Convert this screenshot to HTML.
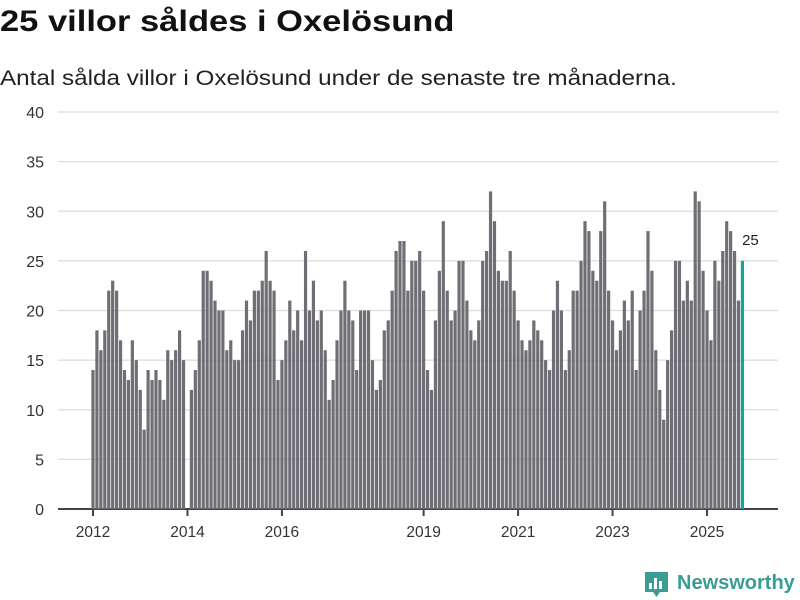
<!DOCTYPE html>
<html><head><meta charset="utf-8">
<style>
body{margin:0;background:#fff;width:800px;height:600px;overflow:hidden;font-family:"Liberation Sans",sans-serif;}
#title{position:absolute;left:0;top:5px;font-size:30px;font-weight:bold;color:#111;margin:0;transform-origin:0 0;transform:scaleX(1.15);white-space:nowrap}
#sub{position:absolute;left:0;top:67px;font-size:21px;color:#222;transform-origin:0 0;transform:scaleX(1.155);white-space:nowrap}
svg{position:absolute;left:0;top:0}
</style></head><body>
<h1 id="title">25 villor såldes i Oxelösund</h1>
<div id="sub">Antal sålda villor i Oxelösund under de senaste tre månaderna.</div>
<svg id="chart" width="800" height="600"></svg>
<script>
const values=[14,18,16,18,22,23,22,17,14,13,17,15,12,8,14,13,14,13,11,16,15,16,18,15,
0,12,14,17,24,24,23,21,20,20,16,17,15,15,18,21,19,22,22,23,26,23,22,13,
15,17,21,18,20,17,26,20,23,19,20,16,11,13,17,20,23,20,19,14,20,20,20,15,
12,13,18,19,22,26,27,27,22,25,25,26,22,14,12,19,24,29,22,19,20,25,25,21,
18,17,19,25,26,32,29,24,23,23,26,22,19,17,16,17,19,18,17,15,14,20,23,20,
14,16,22,22,25,29,28,24,23,28,31,22,19,16,18,21,19,22,14,20,22,28,24,16,
12,9,15,18,25,25,21,23,21,32,31,24,20,17,25,23,26,29,28,26,21,25];
const yTicks=[0,5,10,15,20,25,30,35,40];
const xTickLabels=["2012","2014","2016","2019","2021","2023","2025"];
const xTickIndex=[0,24,48,84,108,132,156];
const lastLabel="25";
const NS="http://www.w3.org/2000/svg";
const svg=document.getElementById('chart');
const y=v=>509-v*9.925;
const x=i=>93+i*3.936;
function mk(t,a){const e=document.createElementNS(NS,t);for(const k in a)e.setAttribute(k,a[k]);svg.appendChild(e);return e;}
yTicks.forEach(t=>{
  const g=mk('line',{x1:58,x2:778,y1:y(t),y2:y(t),stroke:t===0?'#444':'#dcdcdc','stroke-width':t===0?2:1.2});
  
  
  const l=mk('text',{x:44,y:y(t)+6,'text-anchor':'end','font-size':16,fill:'#333','font-family':'Liberation Sans, sans-serif'});
  l.textContent=t;
  
  
});
values.forEach((v,i)=>{
  if(!v)return;
  const last=i===values.length-1;
  const r=mk('rect',{x:x(i)-1.6,y:y(v),width:3.2,height:509-y(v),fill:last?'#13a59a':'#6f6e74'});
  
  
});
xTickIndex.forEach((ix,k)=>{
  const t=mk('line',{x1:x(ix),x2:x(ix),y1:509,y2:516,stroke:'#444','stroke-width':2});
  
  
  const l=mk('text',{x:x(ix),y:537,'text-anchor':'middle','font-size':15.5,fill:'#333','font-family':'Liberation Sans, sans-serif'});
  l.textContent=xTickLabels[k];
  
  
});
const li=values.length-1;
const vl=mk('text',{x:x(li)+8,y:y(values[li])-16,'text-anchor':'middle','font-size':15,fill:'#222','font-family':'Liberation Sans, sans-serif'});
vl.textContent=lastLabel;


</script>
<svg width="800" height="600" style="pointer-events:none">
  <path d="M645 572 h23 v20 h-8 l-3.5 5 l-3.5 -5 h-8 z" fill="#3a9c93"/>
  <rect x="649" y="583" width="3" height="6" fill="#fff"/>
  <rect x="654" y="578" width="3" height="11" fill="#fff"/>
  <rect x="659" y="581" width="3" height="8" fill="#fff"/>
  <text x="677" y="589" font-size="20" font-weight="bold" fill="#3a9c93" font-family="Liberation Sans, sans-serif">Newsworthy</text>
</svg>
</body></html>
